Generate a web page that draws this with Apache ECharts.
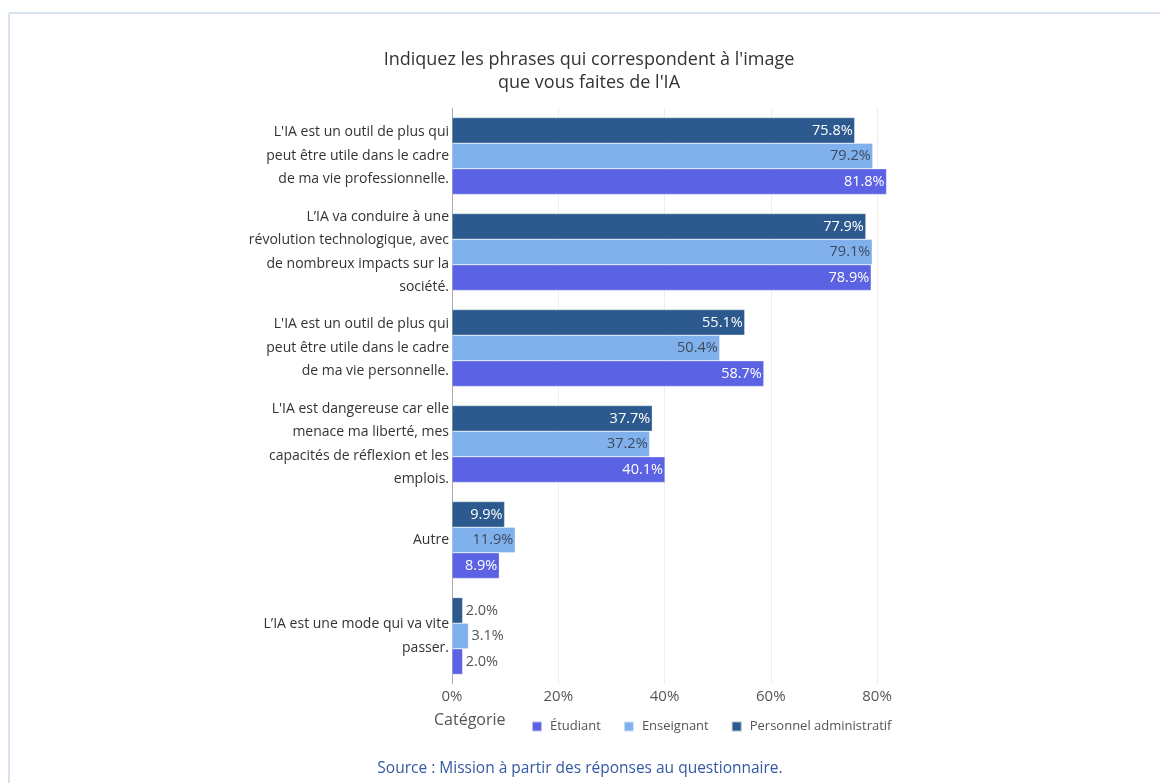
<!DOCTYPE html>
<html lang="fr">
<head>
<meta charset="utf-8">
<title>Image de l'IA</title>
<script src="https://cdn.jsdelivr.net/npm/echarts@6/dist/echarts.min.js"></script>
<style>
  html, body { margin: 0; padding: 0; background: #ffffff; }
  #chart { width: 1160px; height: 783px; }
</style>
</head>
<body>
<div id="chart"></div>
<script>
// Statements shown on the category axis (top to bottom)
const categories = [
  "L'IA est un outil de plus qui\npeut être utile dans le cadre\nde ma vie professionnelle.",
  "L’IA va conduire à une\nrévolution technologique, avec\nde nombreux impacts sur la\nsociété.",
  "L'IA est un outil de plus qui\npeut être utile dans le cadre\nde ma vie personnelle.",
  "L'IA est dangereuse car elle\nmenace ma liberté, mes\ncapacités de réflexion et les\nemplois.",
  "Autre",
  "L’IA est une mode qui va vite\npasser."
];

// Share of respondents (%) per group
const etudiant   = [81.8, 78.9, 58.7, 40.1, 8.9, 2.0];
const enseignant = [79.2, 79.1, 50.4, 37.2, 11.9, 3.1];
const personnel  = [75.8, 77.9, 55.1, 37.7, 9.9, 2.0];

const xTicks = [0, 20, 40, 60, 80];

const FONT = '"Open Sans", Lato, sans-serif';

function barData(values, insideColor) {
  return values.map(v => ({
    value: v,
    label: v < 6
      ? { position: 'right', color: '#555', distance: 3 }
      : { position: 'insideRight', color: insideColor, distance: 2 }
  }));
}

function barSeries(name, values, color, insideColor) {
  return {
    name: name,
    type: 'bar',
    data: barData(values, insideColor),
    barGap: '0%',
    barCategoryGap: '20%',
    clip: false,
    itemStyle: { color: color, borderColor: 'rgba(255,255,255,0.6)', borderWidth: 0.5 },
    label: {
      show: true,
      fontFamily: FONT,
      fontSize: 14.5,
      letterSpacing: -0.5,
      formatter: p => p.value.toFixed(1) + '%'
    }
  };
}

const chart = echarts.init(document.getElementById('chart'), null, { renderer: 'canvas' });

chart.setOption({
  backgroundColor: '#ffffff',
  animation: false,
  textStyle: { fontFamily: FONT },
  title: {
    text: "Indiquez les phrases qui correspondent à l'image\nque vous faites de l'IA",
    left: 584,
    top: 43,
    textAlign: 'center',
    textStyle: { fontFamily: FONT, fontSize: 18, fontWeight: 'normal', color: '#333', lineHeight: 23 }
  },
  grid: { left: 452, right: 283, top: 108, bottom: 99, containLabel: false },
  xAxis: {
    type: 'value',
    min: xTicks[0],
    max: xTicks[xTicks.length - 1],
    interval: 20,
    axisLine: { show: false },
    axisTick: { show: false },
    splitLine: { lineStyle: { color: '#eeeeee', width: 1 } },
    axisLabel: { formatter: '{value}%', fontFamily: FONT, fontSize: 15, color: '#555', margin: 5 }
  },
  yAxis: {
    type: 'category',
    inverse: true,
    data: categories,
    axisTick: { show: false },
    axisLine: { show: true, lineStyle: { color: '#aaaaaa', width: 1 } },
    axisLabel: { fontFamily: FONT, fontSize: 14, color: '#333', lineHeight: 23.5, margin: 3, align: 'right' }
  },
  legend: {
    data: ['Étudiant', 'Enseignant', 'Personnel administratif'],
    left: 526,
    top: 715,
    icon: 'rect',
    itemWidth: 10,
    itemHeight: 10,
    itemGap: 22,
    textStyle: { fontFamily: FONT, fontSize: 13, color: '#555', padding: [0, 0, 0, 3] }
  },
  graphic: [
    { type: 'line', shape: { x1: 9, y1: 13, x2: 1160, y2: 13 }, style: { stroke: '#d6e2ee', lineWidth: 2 } },
    { type: 'line', shape: { x1: 9, y1: 13, x2: 9, y2: 783 }, style: { stroke: '#d6e2ee', lineWidth: 2 } },
    { type: 'text', left: 434, top: 712, style: { text: 'Catégorie', fontFamily: FONT, fontSize: 16, fill: '#555' } },
    { type: 'text', left: 'center', top: 761, style: { text: 'Source : Mission à partir des réponses au questionnaire.', fontFamily: FONT, fontSize: 15.5, fill: '#3558a3' } }
  ],
  series: [
    barSeries('Personnel administratif', personnel, '#2d5a8e', '#ffffff'),
    barSeries('Enseignant', enseignant, '#80b1ec', '#3e4a5c'),
    barSeries('Étudiant', etudiant, '#5b62e3', '#ffffff')
  ]
});
</script>
</body>
</html>
